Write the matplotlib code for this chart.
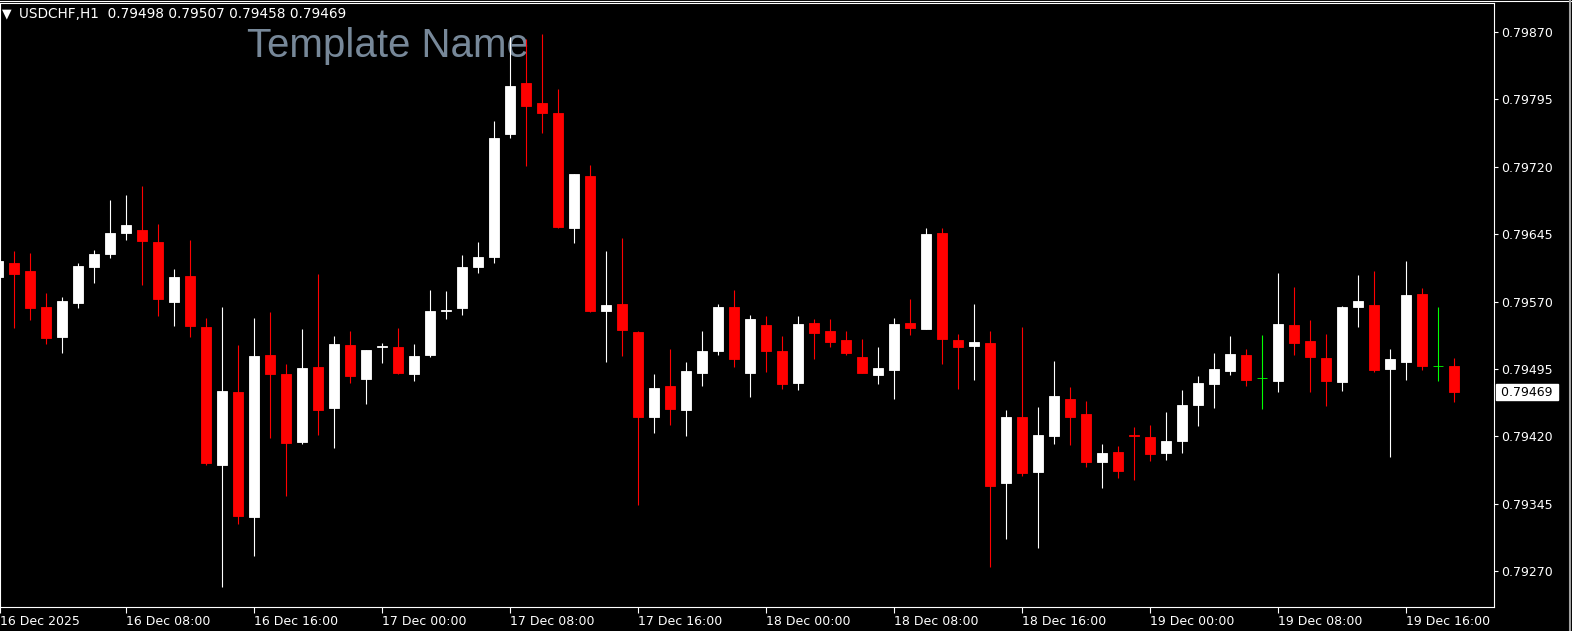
import matplotlib
matplotlib.use('Agg')
import matplotlib.pyplot as plt
import matplotlib.transforms as mtransforms
from matplotlib.lines import Line2D
import numpy as np

# USDCHF H1 candles, prices in points (1e-5), 16 Dec 00:00 .. 19 Dec 19:00
opens = [79597, 79613, 79604, 79564, 79531, 79568, 79608, 79623, 79646, 79650,
         79636, 79570, 79598, 79542, 79388, 79469, 79330, 79510, 79489, 79414,
         79497, 79452, 79522, 79484, 79519, 79520, 79489, 79510, 79560, 79563,
         79609, 79620, 79756, 79813, 79791, 79780, 79652, 79710, 79559, 79567,
         79536, 79442, 79476, 79449, 79491, 79515, 79564, 79491, 79544, 79515,
         79479, 79546, 79537, 79527, 79508, 79488, 79494, 79546, 79540, 79646,
         79527, 79521, 79524, 79368, 79441, 79380, 79420, 79462, 79445, 79391,
         79403, 79422, 79419, 79401, 79415, 79455, 79478, 79493, 79511, 79485,
         79482, 79544, 79526, 79507, 79481, 79564, 79566, 79495, 79503, 79578,
         79498, 79498]
highs = [79620, 79626, 79624, 79580, 79575, 79613, 79627, 79683, 79689, 79699,
         79656, 79606, 79638, 79552, 79564, 79522, 79552, 79558, 79501, 79540,
         79601, 79532, 79537, 79516, 79524, 79541, 79523, 79583, 79582, 79622,
         79636, 79771, 79865, 79862, 79868, 79807, 79712, 79722, 79626, 79641,
         79537, 79489, 79517, 79503, 79537, 79567, 79583, 79555, 79554, 79532,
         79554, 79551, 79551, 79537, 79528, 79520, 79552, 79573, 79652, 79652,
         79534, 79567, 79537, 79449, 79542, 79453, 79504, 79475, 79459, 79412,
         79409, 79430, 79433, 79447, 79472, 79487, 79513, 79532, 79517, 79533,
         79602, 79586, 79550, 79534, 79565, 79600, 79604, 79517, 79615, 79585,
         79564, 79507]
lows = [79593, 79541, 79550, 79523, 79513, 79563, 79591, 79619, 79638, 79588,
        79554, 79543, 79531, 79388, 79252, 79323, 79287, 79418, 79354, 79412,
        79421, 79407, 79479, 79456, 79502, 79489, 79482, 79508, 79551, 79555,
        79602, 79613, 79752, 79721, 79758, 79652, 79635, 79558, 79503, 79509,
        79344, 79424, 79433, 79420, 79476, 79510, 79497, 79464, 79492, 79473,
        79472, 79506, 79519, 79510, 79490, 79478, 79462, 79533, 79539, 79500,
        79473, 79483, 79275, 79306, 79376, 79296, 79412, 79410, 79386, 79362,
        79374, 79371, 79393, 79394, 79402, 79432, 79452, 79488, 79476, 79450,
        79469, 79510, 79469, 79454, 79470, 79542, 79492, 79397, 79483, 79494,
        79482, 79458]
closes = [79615, 79601, 79563, 79530, 79571, 79610, 79623, 79646, 79655, 79637,
          79573, 79597, 79543, 79390, 79471, 79331, 79509, 79489, 79413, 79496,
          79449, 79523, 79487, 79516, 79521, 79490, 79509, 79560, 79561, 79609,
          79620, 79752, 79810, 79788, 79780, 79653, 79712, 79560, 79566, 79538,
          79441, 79474, 79450, 79493, 79515, 79564, 79506, 79551, 79515, 79478,
          79545, 79535, 79525, 79513, 79490, 79496, 79545, 79541, 79645, 79528,
          79519, 79525, 79365, 79442, 79379, 79422, 79465, 79442, 79391, 79402,
          79381, 79420, 79400, 79415, 79455, 79479, 79495, 79512, 79483, 79485,
          79545, 79524, 79508, 79482, 79564, 79571, 79494, 79506, 79577, 79498,
          79498, 79469]

time_labels = ['16 Dec 2025', '16 Dec 08:00', '16 Dec 16:00', '17 Dec 00:00',
               '17 Dec 08:00', '17 Dec 16:00', '18 Dec 00:00', '18 Dec 08:00',
               '18 Dec 16:00', '19 Dec 00:00', '19 Dec 08:00', '19 Dec 16:00']
price_ticks = [0.79270, 0.79345, 0.79420, 0.79495, 0.79570,
               0.79645, 0.79720, 0.79795, 0.79870]
header = 'USDCHF,H1  0.79498 0.79507 0.79458 0.79469'
last_price = 0.79469

o = np.array(opens) / 1e5
h = np.array(highs) / 1e5
l = np.array(lows) / 1e5
c = np.array(closes) / 1e5
x = np.arange(len(o))

W, H = 1572, 631
right_px = 1494
fig = plt.figure(figsize=(W / 100, H / 100), dpi=100, facecolor='black')
ax = fig.add_axes([0, 1 - 607 / H, right_px / W, 604 / H], facecolor='black')

cols = []
for oo, cc in zip(o, c):
    if cc > oo:
        cols.append('white')
    elif cc < oo:
        cols.append('#ff0000')
    else:
        cols.append('#00ff00')

ax.vlines(x, l, h, colors=cols, linewidth=0.8, zorder=2)
ax.bar(x, np.abs(c - o), bottom=np.minimum(o, c), width=0.64, color=cols,
       edgecolor=cols, linewidth=0.6, zorder=3)

x_lo = 1.7 / 16
ax.set_xlim(x_lo, (right_px + 1.7) / 16)
ax.set_ylim(0.792301, 0.799023)

for s in ax.spines.values():
    s.set_color('white')
    s.set_linewidth(0.8)

ax.yaxis.tick_right()
ax.set_yticks(price_ticks)
ax.set_yticklabels(['%.5f' % p for p in price_ticks])
ax.tick_params(axis='y', colors='white', length=3, width=0.8, pad=2, labelsize=9)

xt = [max(8 * k, x_lo) for k in range(len(time_labels))]
ax.set_xticks(xt)
ax.set_xticklabels(time_labels, ha='left')
ax.tick_params(axis='x', colors='white', length=4, width=0.8, pad=2, labelsize=9)

# current price tag
tr = mtransforms.blended_transform_factory(ax.transAxes, ax.transData)
ax.text(1.0 + 3 / right_px, last_price, ' %.5f ' % last_price, transform=tr,
        ha='left', va='center', color='black', fontsize=9,
        bbox=dict(facecolor='white', edgecolor='white', pad=1.0))

# header and template name
fig.text(2 / W, 1 - 14 / H, '\u25bc', color='white', fontsize=9, va='center')
fig.text(19 / W, 1 - 14 / H, header, color='white', fontsize=9.8, va='center')
ax.text(247 / W, 1 - 46 / H, 'Template Name', transform=fig.transFigure,
        color='#778899', fontsize=29, family='Liberation Sans', va='center',
        zorder=1)

fig.add_artist(Line2D([0, 1], [1 - 1 / H, 1 - 1 / H], color='white', lw=0.8))
fig.add_artist(Line2D([1569.5 / W, 1569.5 / W], [0, 1], color='#a0a0a0', lw=1.5))

fig.savefig('out.png', dpi=100, facecolor='black')
